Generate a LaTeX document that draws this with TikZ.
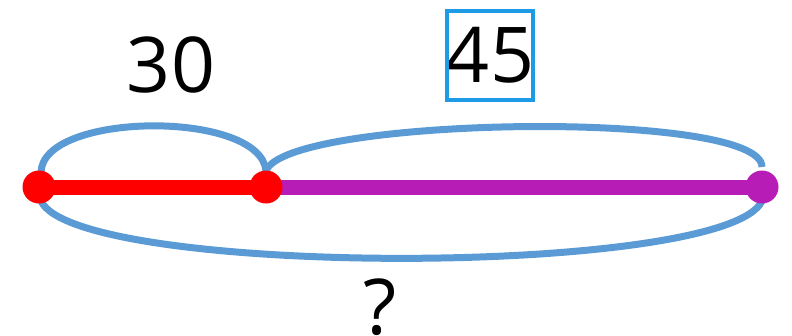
\documentclass[tikz,border=0pt]{standalone}
\usepackage{fontspec}
\setmainfont{Open Sans}
\usepackage{tikz}
\usetikzlibrary{calc}
\definecolor{arcblue}{HTML}{5B9BD5}
\definecolor{boxblue}{HTML}{1E9BE6}
\definecolor{segred}{HTML}{FF0000}
\definecolor{segpurple}{HTML}{B71CB7}

\begin{document}
\begin{tikzpicture}[x=1pt,y=-1pt,
    dotnode/.style={circle,fill=#1,minimum size=33pt,inner sep=0pt},
    seg/.style={line width=15pt,#1},
    arcline/.style={line width=7pt,arcblue},
    numlabel/.style={font=\fontsize{77}{77}\selectfont,inner sep=0pt}]
  \useasboundingbox (0,0) rectangle (792,335);
  % points on the line
  \coordinate (a) at (39,187);
  \coordinate (b) at (266,187);
  \coordinate (c) at (762,187);
  % arcs over and under the line
  \draw[arcline] ($(a)+(2,-14)$) to[out=90,in=95,looseness=0.7] ($(b)+(0,-16)$);
  \draw[arcline] ($(b)+(0,-16)$) to[out=70,in=90,looseness=0.3] ($(c)+(0,-20)$);
  \draw[arcline] ($(a)+(2,14)$) to[out=-65,in=-115,looseness=0.3] ($(c)+(0,14)$);
  % segments
  \draw[seg=segred] (a) -- (b);
  \draw[seg=segpurple] (b) -- (c);
  \node[dotnode=segred] (pa) at (a) {};
  \node[dotnode=segred] (pb) at (b) {};
  \node[dotnode=segpurple] (pc) at (c) {};
  % labels
  \node[numlabel] (l30) at (171,64.5) {30};
  \node[numlabel] (l45) at (490,55.5) {45};
  \draw[boxblue,line width=4pt] (447,11) rectangle (533,100);
  \node[numlabel] (lq) at (380,307.5) {?};
\end{tikzpicture}
\end{document}
